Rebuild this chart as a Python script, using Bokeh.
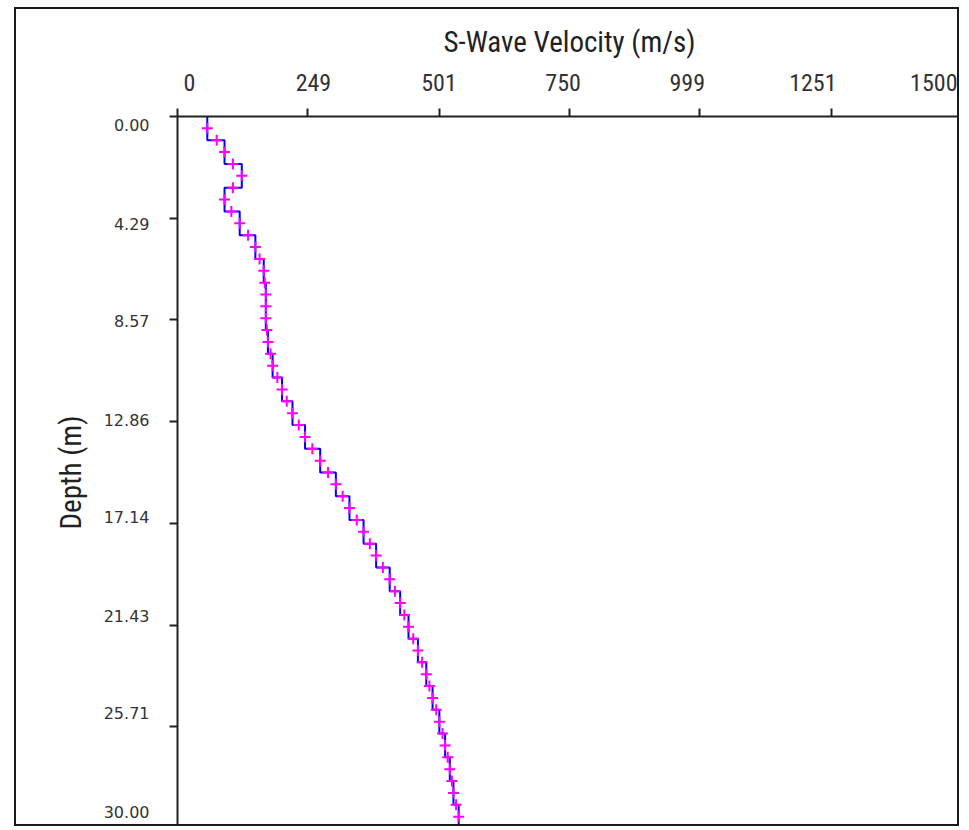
import numpy as np
from bokeh.plotting import figure
from bokeh.models import Range1d, FixedTicker, LinearAxis, NumeralTickFormatter
from bokeh.embed import file_html
from bokeh.resources import INLINE

# ---- data ----
layer_top = [0, 1, 2, 3, 4, 5, 6, 7, 8, 9, 10, 11, 12, 13, 14, 15, 16, 17, 18, 19,
             20, 21, 22, 23, 24, 25, 26, 27, 28, 29]
layer_bottom = [1, 2, 3, 4, 5, 6, 7, 8, 9, 10, 11, 12, 13, 14, 15, 16, 17, 18, 19, 20,
                21, 22, 23, 24, 25, 26, 27, 28, 29, 30]
layer_vs = [57, 90, 123, 90, 119, 149, 165, 169, 169, 173, 182, 200, 220, 244, 273,
            303, 329, 356, 380, 406, 426, 442, 460, 476, 488, 501, 512, 521, 528, 538]

cross_depth = [0.5, 1.0, 1.5, 2.0, 2.5, 3.0, 3.5, 4.0, 4.5, 5.0, 5.5, 6.0, 6.5, 7.0, 7.5,
               8.0, 8.5, 9.0, 9.5, 10.0, 10.5, 11.0, 11.5, 12.0, 12.5, 13.0, 13.5, 14.0,
               14.5, 15.0, 15.5, 16.0, 16.5, 17.0, 17.5, 18.0, 18.5, 19.0, 19.5, 20.0,
               20.5, 21.0, 21.5, 22.0, 22.5, 23.0, 23.5, 24.0, 24.5, 25.0, 25.5, 26.0,
               26.5, 27.0, 27.5, 28.0, 28.5, 29.0, 29.5]
cross_vs = [57, 75, 90, 106, 123, 106, 90, 103, 119, 135, 149, 157, 165, 167, 169,
            169, 169, 171, 173, 178, 182, 191, 200, 209, 220, 232, 244, 258, 273, 288,
            303, 316, 329, 343, 356, 368, 380, 393, 406, 416, 426, 434, 442, 451, 460,
            468, 476, 482, 488, 495, 501, 507, 512, 517, 521, 525, 528, 533, 538]

x_ticks = [0, 249, 501, 750, 999, 1251, 1500]
x_tick_labels = ["0", "249", "501", "750", "999", "1251", "1500"]
y_ticks = [0.0, 4.29, 8.57, 12.86, 17.14, 21.43, 25.71, 30.0]
y_tick_labels = ["0.00", "4.29", "8.57", "12.86", "17.14", "21.43", "25.71", "30.00"]

x_title = "S-Wave Velocity (m/s)"
y_title = "Depth (m)"

NARROW = "'Liberation Sans Narrow', 'Arial Narrow', 'Roboto Condensed', sans-serif"
INK = "#222222"
LABEL_INK = "#333333"

p = figure(width=945, height=819, output_backend="svg", toolbar_location=None,
           x_range=Range1d(0, 1500), y_range=Range1d(30, 0),
           x_axis_location="above",
           min_border_left=161, min_border_top=107, min_border_right=0, min_border_bottom=0)
p.styles = {"border": "2px solid #1a1a1a", "margin-left": "14px", "margin-top": "7px"}
p.outline_line_color = None
p.xgrid.grid_line_color = None
p.ygrid.grid_line_color = None
p.background_fill_color = "white"
p.border_fill_color = "white"

# primary axes: axis line + ticks only
for ax in (p.xaxis[0], p.yaxis[0]):
    ax.axis_line_color = INK
    ax.axis_line_width = 2
    ax.major_tick_line_color = INK
    ax.major_tick_line_width = 2
    ax.major_tick_out = 8
    ax.major_tick_in = 0
    ax.minor_tick_line_color = None
    ax.major_label_text_font_size = "0px"
    ax.major_label_text_color = None
    ax.major_label_standoff = 0
p.xaxis[0].ticker = FixedTicker(ticks=x_ticks)
p.yaxis[0].ticker = FixedTicker(ticks=y_ticks)

# label rows (edge labels pulled inward as in the reference)
p.extra_x_ranges = {"xlab": Range1d(-23.7, 1549.3)}
p.extra_y_ranges = {"ylab": Range1d(30.74, -0.39)}

xlab = LinearAxis(x_range_name="xlab", ticker=FixedTicker(ticks=x_ticks),
                  major_label_overrides=dict(zip(x_ticks, x_tick_labels)),
                  axis_label=x_title)
ylab = LinearAxis(y_range_name="ylab", ticker=FixedTicker(ticks=y_ticks),
                  formatter=NumeralTickFormatter(format="0.00"),
                  major_label_overrides=dict(zip(y_ticks, y_tick_labels)),
                  axis_label=y_title)
for ax in (xlab, ylab):
    ax.axis_line_color = None
    ax.major_tick_line_color = None
    ax.minor_tick_line_color = None
    ax.major_tick_out = 0
    ax.major_tick_in = 0
    ax.major_label_text_color = LABEL_INK
    ax.axis_label_text_font = NARROW
    ax.axis_label_text_font_size = "29px"
    ax.axis_label_text_font_style = "normal"
    ax.axis_label_text_color = INK

xlab.major_label_text_font = NARROW
xlab.major_label_text_font_size = "24px"
xlab.major_label_standoff = 18
xlab.axis_label_standoff = 12

ylab.major_label_text_font = "DejaVu Sans"
ylab.major_label_text_font_size = "16px"
ylab.major_label_standoff = 20
ylab.axis_label_standoff = 13

p.add_layout(xlab, "above")
p.add_layout(ylab, "left")

# stepped profile
step_x = np.repeat(np.array(layer_vs, dtype=float), 2)
step_y = np.column_stack([layer_top, layer_bottom]).ravel().astype(float)
p.line(step_x, step_y, line_color="#0000ff", line_width=2)

p.scatter(cross_vs, cross_depth, marker="cross", size=11, line_color="#ff00ff",
          line_width=2)

open("out.html", "w").write(file_html(p, INLINE))
